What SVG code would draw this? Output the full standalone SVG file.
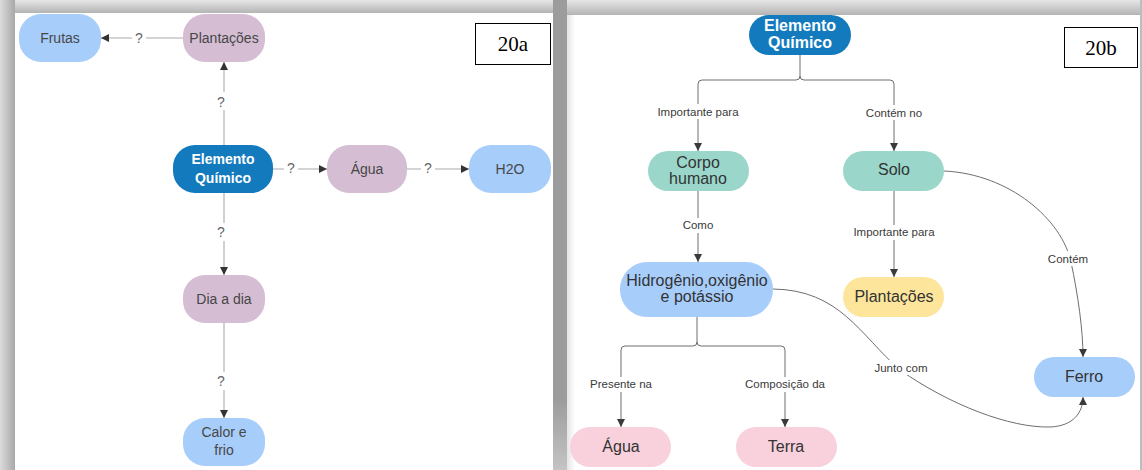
<svg xmlns="http://www.w3.org/2000/svg" width="1142" height="470" viewBox="0 0 1142 470">
  <defs>
    <linearGradient id="shadeTop" x1="0" y1="0" x2="0" y2="1">
      <stop offset="0" stop-color="#e6e6e6"/>
      <stop offset="1" stop-color="#b4b4b4"/>
    </linearGradient>
    <linearGradient id="shadeLeft" x1="0" y1="0" x2="1" y2="0">
      <stop offset="0" stop-color="#dcdcdc"/>
      <stop offset="1" stop-color="#a8a8a8"/>
    </linearGradient>
    <linearGradient id="shadeGap" x1="0" y1="0" x2="0" y2="1">
      <stop offset="0" stop-color="#9c9c9c"/>
      <stop offset="0.85" stop-color="#9c9c9c"/>
      <stop offset="1" stop-color="#c4c4c4"/>
    </linearGradient>
    <linearGradient id="innerEdge" x1="0" y1="0" x2="1" y2="0">
      <stop offset="0" stop-color="#e4e4e4"/>
      <stop offset="1" stop-color="#ffffff"/>
    </linearGradient>
    <marker id="arrA" viewBox="0 0 10 10" refX="10" refY="5" markerWidth="8" markerHeight="8" markerUnits="userSpaceOnUse" orient="auto">
      <path d="M0,0 L10,5 L0,10 z" fill="#333"/>
    </marker>
    <marker id="arrB" viewBox="0 0 10 10" refX="10" refY="5" markerWidth="8" markerHeight="8" markerUnits="userSpaceOnUse" orient="auto">
      <path d="M0,0 L10,5 L0,10 z" fill="#3a3a3a"/>
    </marker>
  </defs>
  <style>
    .txt { font-family: "Liberation Sans", Arial, sans-serif; text-anchor: middle; }
    .na { font-size: 14px; fill: #474747; }
    .nb { font-size: 16px; fill: #333; }
    .hdrA { font-size: 14px; font-weight: bold; fill: #fff; }
    .hdrB { font-size: 16px; font-weight: bold; fill: #fff; }
    .q { font-size: 14px; fill: #666; }
    .lbl { font-size: 11.5px; fill: #3a3a3a; }
    .tag { font-family: "Liberation Serif", "Times New Roman", serif; font-size: 21px; fill: #000; text-anchor: middle; }
    .lineA { fill: none; stroke: #c6c6c6; stroke-width: 1.6; }
    .lineB { fill: none; stroke: #6e6e6e; stroke-width: 1; }
    .blue { fill: #a7cdfb; }
    .dark { fill: #137bbd; }
    .lilac { fill: #d5bdd4; }
    .teal { fill: #9ad7ca; }
    .yellow { fill: #fde69c; }
    .pink { fill: #f8d1dd; }
  </style>

  <!-- page backdrop and panel frames -->
  <rect x="0" y="0" width="1142" height="470" fill="#ffffff"/>
  <rect x="0" y="0" width="567" height="13" fill="url(#shadeTop)"/>
  <rect x="0" y="0" width="15" height="470" fill="url(#shadeLeft)"/>
  <rect x="15" y="13" width="538" height="457" fill="#ffffff"/>
  <rect x="553" y="0" width="14" height="470" fill="url(#shadeGap)"/>
  <rect x="567" y="0" width="575" height="15" fill="url(#shadeTop)"/>
  <rect x="567" y="15" width="573" height="455" fill="#ffffff"/>
  <rect x="567" y="15" width="8" height="455" fill="url(#innerEdge)"/>
  <rect x="1140" y="0" width="2" height="470" fill="#bdbdbd"/>

  <!-- panel tags -->
  <g id="tag-20a">
    <rect x="475.5" y="23.5" width="75" height="41" fill="#fff" stroke="#000" stroke-width="1"/>
    <text class="tag" x="513" y="51">20a</text>
  </g>
  <g id="tag-20b">
    <rect x="1064.5" y="27.5" width="73" height="40" fill="#fff" stroke="#000" stroke-width="1"/>
    <text class="tag" x="1101" y="55">20b</text>
  </g>

  <!-- connectors -->
  <g id="connectors">
    <!-- map A -->
    <path class="lineA" d="M183,38 H101" marker-end="url(#arrA)"/>
    <path class="lineA" d="M224,145 V62" marker-end="url(#arrA)"/>
    <path class="lineA" d="M273,169 H327" marker-end="url(#arrA)"/>
    <path class="lineA" d="M407,169 H469" marker-end="url(#arrA)"/>
    <path class="lineA" d="M224,193 V275" marker-end="url(#arrA)"/>
    <path class="lineA" d="M224,323 V418" marker-end="url(#arrA)"/>
    <rect x="132" y="29" width="14" height="18" fill="#fff"/>
    <text class="txt q" x="139" y="43">?</text>
    <rect x="214" y="92" width="14" height="18" fill="#fff"/>
    <text class="txt q" x="221" y="107">?</text>
    <rect x="284" y="159" width="14" height="18" fill="#fff"/>
    <text class="txt q" x="291" y="173">?</text>
    <rect x="421" y="159" width="14" height="18" fill="#fff"/>
    <text class="txt q" x="428" y="173">?</text>
    <rect x="214" y="223" width="14" height="18" fill="#fff"/>
    <text class="txt q" x="221" y="237">?</text>
    <rect x="214" y="372" width="14" height="18" fill="#fff"/>
    <text class="txt q" x="221" y="386">?</text>

    <!-- map B -->
    <path class="lineB" d="M800,55 V76 Q800,80 796,80 H702 Q698,80 698,84 V151" marker-end="url(#arrB)"/>
    <path class="lineB" d="M800,76 Q800,80 804,80 H890 Q894,80 894,84 V151" marker-end="url(#arrB)"/>
    <path class="lineB" d="M698,191 V262" marker-end="url(#arrB)"/>
    <path class="lineB" d="M894,191 V277" marker-end="url(#arrB)"/>
    <path class="lineB" d="M697,317 V342 Q697,346 693,346 H625 Q621,346 621,350 V427" marker-end="url(#arrB)"/>
    <path class="lineB" d="M697,342 Q697,346 701,346 H781 Q785,346 785,350 V427" marker-end="url(#arrB)"/>
    <path class="lineB" d="M944,171 C1010,174 1062,220 1071,262 C1078,295 1083,330 1083,357" marker-end="url(#arrB)"/>
    <path class="lineB" d="M773,289 C840,290 860,335 900,370 C950,405 1010,428 1050,427 C1074,426 1083,412 1083,397" marker-end="url(#arrB)"/>

    <rect x="653" y="104" width="90" height="15" fill="#fff"/>
    <text class="txt lbl" x="698" y="116">Importante para</text>
    <rect x="864" y="105" width="60" height="15" fill="#fff"/>
    <text class="txt lbl" x="894" y="117">Contém no</text>
    <rect x="679" y="218" width="38" height="15" fill="#fff"/>
    <text class="txt lbl" x="698" y="229">Como</text>
    <rect x="849" y="225" width="90" height="15" fill="#fff"/>
    <text class="txt lbl" x="894" y="236">Importante para</text>
    <rect x="1046" y="251" width="44" height="15" fill="#fff"/>
    <text class="txt lbl" x="1068" y="263">Contém</text>
    <rect x="871" y="360" width="60" height="15" fill="#fff"/>
    <text class="txt lbl" x="901" y="372">Junto com</text>
    <rect x="586" y="377" width="70" height="15" fill="#fff"/>
    <text class="txt lbl" x="621" y="388">Presente na</text>
    <rect x="742" y="377" width="86" height="15" fill="#fff"/>
    <text class="txt lbl" x="785" y="388">Composição da</text>
  </g>

  <!-- map A nodes -->
  <g id="a-frutas">
    <rect class="blue" x="19" y="14" width="82" height="48" rx="22"/>
    <text class="txt na" x="60" y="43">Frutas</text>
  </g>
  <g id="a-plantacoes">
    <rect class="lilac" x="183" y="14" width="82" height="48" rx="22"/>
    <text class="txt na" x="224" y="43">Plantações</text>
  </g>
  <g id="a-elemento">
    <rect class="dark" x="173" y="145" width="100" height="48" rx="22"/>
    <text class="txt hdrA" x="223" y="164">Elemento</text>
    <text class="txt hdrA" x="223" y="183">Químico</text>
  </g>
  <g id="a-agua">
    <rect class="lilac" x="327" y="145" width="80" height="48" rx="22"/>
    <text class="txt na" x="367" y="174">Água</text>
  </g>
  <g id="a-h2o">
    <rect class="blue" x="469" y="145" width="82" height="48" rx="22"/>
    <text class="txt na" x="510" y="174">H2O</text>
  </g>
  <g id="a-dia">
    <rect class="lilac" x="183" y="275" width="82" height="48" rx="22"/>
    <text class="txt na" x="224" y="304">Dia a dia</text>
  </g>
  <g id="a-calor">
    <rect class="blue" x="183" y="418" width="82" height="48" rx="22"/>
    <text class="txt na" x="224" y="437">Calor e</text>
    <text class="txt na" x="224" y="455">frio</text>
  </g>

  <!-- map B nodes -->
  <g id="b-elemento">
    <rect class="dark" x="749" y="15" width="102" height="40" rx="20"/>
    <text class="txt hdrB" x="800" y="31">Elemento</text>
    <text class="txt hdrB" x="800" y="48">Químico</text>
  </g>
  <g id="b-corpo">
    <rect class="teal" x="648" y="151" width="101" height="40" rx="20"/>
    <text class="txt nb" x="698" y="168">Corpo</text>
    <text class="txt nb" x="698" y="184">humano</text>
  </g>
  <g id="b-solo">
    <rect class="teal" x="843" y="151" width="101" height="40" rx="20"/>
    <text class="txt nb" x="894" y="175">Solo</text>
  </g>
  <g id="b-hidrogenio">
    <rect class="blue" x="620" y="262" width="153" height="55" rx="27"/>
    <text class="txt nb" x="697" y="286">Hidrogênio,oxigênio</text>
    <text class="txt nb" x="697" y="302">e potássio</text>
  </g>
  <g id="b-plantacoes">
    <rect class="yellow" x="843" y="277" width="101" height="40" rx="20"/>
    <text class="txt nb" x="894" y="302">Plantações</text>
  </g>
  <g id="b-ferro">
    <rect class="blue" x="1034" y="357" width="101" height="40" rx="20"/>
    <text class="txt nb" x="1084" y="382">Ferro</text>
  </g>
  <g id="b-agua">
    <rect class="pink" x="570" y="427" width="101" height="40" rx="20"/>
    <text class="txt nb" x="621" y="452">Água</text>
  </g>
  <g id="b-terra">
    <rect class="pink" x="736" y="427" width="101" height="40" rx="20"/>
    <text class="txt nb" x="786" y="452">Terra</text>
  </g>
</svg>
